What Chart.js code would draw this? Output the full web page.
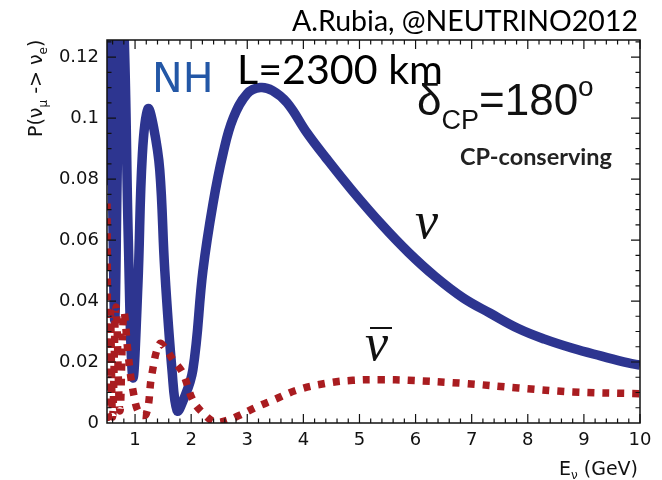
<!DOCTYPE html>
<html>
<head>
<meta charset="utf-8">
<script src="https://cdn.jsdelivr.net/npm/chart.js@4.4.1/dist/chart.umd.min.js"></script>
<style>
  html, body { margin: 0; padding: 0; background: #fff; }
  #wrap { width: 662px; height: 480px; }
</style>
</head>
<body>
<div id="wrap"><canvas id="prob" width="662" height="480"></canvas></div>
<script>
// nu_mu -> nu_e appearance, L = 2300 km, normal hierarchy, delta_CP = 180 deg
const nuE = [0.50, 0.53, 0.57, 0.61, 0.64, 0.68, 0.73, 0.80, 0.88, 0.96,
             1.05, 1.13, 1.23, 1.33, 1.44, 1.53, 1.66, 1.75, 1.85, 2.03,
             2.21, 2.39, 2.57, 2.75, 3.00, 3.23, 3.45, 3.71, 4.07, 4.40,
             4.88, 5.40, 5.87, 6.35, 6.85, 7.33, 7.83, 8.30, 8.80, 9.30,
             9.79, 10.0];
const nuP = [0.078, 0.13, 0.12, 0.06, 0.034, 0.08, 0.14, 0.13, 0.06, 0.015,
             0.045, 0.088, 0.103, 0.097, 0.083, 0.050, 0.017, 0.004, 0.007, 0.0174,
             0.050, 0.072, 0.0885, 0.100, 0.108, 0.110, 0.109, 0.105, 0.095, 0.087,
             0.076, 0.065, 0.056, 0.048, 0.041, 0.036, 0.031, 0.0275, 0.0245, 0.022,
             0.0197, 0.019];

// anti-neutrino channel
const nubarE = [0.50, 0.52, 0.56, 0.60, 0.66, 0.73, 0.80, 0.88, 0.97, 1.08,
                1.20, 1.30, 1.44, 1.56, 1.68, 1.85, 2.03, 2.21, 2.43, 2.66,
                2.87, 3.17, 3.46, 3.89, 4.40, 4.88, 5.40, 5.87, 6.85, 7.83,
                8.80, 10.0];
const nubarP = [0.072, 0.002, 0.036, 0.002, 0.038, 0.004, 0.036, 0.022, 0.010, 0.003,
                0.003, 0.016, 0.026, 0.024, 0.0206, 0.0164, 0.0075, 0.0033, 0.0003, 0.001,
                0.0026, 0.0053, 0.0075, 0.0108, 0.013, 0.014, 0.0142, 0.014, 0.013, 0.0115,
                0.0102, 0.0096];

const xTicks = [1, 2, 3, 4, 5, 6, 7, 8, 9, 10];
const yTicks = [0, 0.02, 0.04, 0.06, 0.08, 0.1, 0.12];

const X_MIN = 0.5, X_MAX = 10, Y_MIN = 0, Y_MAX = 0.1256;
const NU_BLUE = "#2d3590";
const NUBAR_RED = "#a91c20";
const AXIS_FONT = "DejaVu Sans";

const toXY = (xs, ys) => xs.map((x, i) => ({ x, y: ys[i] }));

// draw a row of text pieces (normal / sub / superscript), returns total width
function drawRuns(ctx, x, y, runs) {
  let cx = x;
  runs.forEach(r => {
    ctx.font = r.font;
    ctx.fillText(r.text, cx, y + (r.dy || 0));
    cx += ctx.measureText(r.text).width;
  });
  return cx - x;
}

function runsWidth(ctx, runs) {
  return runs.reduce((w, r) => { ctx.font = r.font; return w + ctx.measureText(r.text).width; }, 0);
}

// font size that makes text span the given width
function fitSize(ctx, text, family, weight, width) {
  ctx.font = `${weight} 100px ${family}`;
  return 100 * width / ctx.measureText(text).width;
}

const frameAndText = {
  id: "frameAndText",
  afterDatasetsDraw(chart) {
    const { ctx, chartArea: a, scales: { x, y } } = chart;
    ctx.save();

    // frame
    ctx.strokeStyle = "#111";
    ctx.lineWidth = 1.5;
    ctx.strokeRect(a.left, a.top, a.right - a.left, a.bottom - a.top);

    // inward ticks on all four sides
    ctx.lineWidth = 1.2;
    ctx.beginPath();
    for (let i = 3; i <= 50; i++) {
      const px = x.getPixelForValue(i * 0.2);
      const len = i % 5 === 0 ? 9 : 4.5;
      ctx.moveTo(px, a.bottom); ctx.lineTo(px, a.bottom - len);
      ctx.moveTo(px, a.top); ctx.lineTo(px, a.top + len);
    }
    for (let i = 1; i * 0.005 <= Y_MAX; i++) {
      const py = y.getPixelForValue(i * 0.005);
      const len = i % 4 === 0 ? 9 : 4.5;
      ctx.moveTo(a.left, py); ctx.lineTo(a.left + len, py);
      ctx.moveTo(a.right, py); ctx.lineTo(a.right - len, py);
    }
    ctx.stroke();

    ctx.fillStyle = "#111";
    ctx.textBaseline = "alphabetic";
    ctx.textAlign = "left";

    // y title, rotated
    ctx.save();
    ctx.translate(42, 137);
    ctx.rotate(-Math.PI / 2);
    drawRuns(ctx, 0, 0, [
      { text: "P(\u03bd", font: `19px ${AXIS_FONT}` },
      { text: "\u03bc", font: `12px ${AXIS_FONT}`, dy: 5 },
      { text: " -> \u03bd", font: `19px ${AXIS_FONT}` },
      { text: "e", font: `12px ${AXIS_FONT}`, dy: 5 },
      { text: ")", font: `19px ${AXIS_FONT}` },
    ]);
    ctx.restore();

    // x title
    const xRuns = [
      { text: "E", font: `19px ${AXIS_FONT}` },
      { text: "\u03bd", font: `12px ${AXIS_FONT}`, dy: 4 },
      { text: " (GeV)", font: `19px ${AXIS_FONT}` },
    ];
    drawRuns(ctx, 638 - runsWidth(ctx, xRuns), 475, xRuns);

    // credit line and baseline
    ctx.fillStyle = "#000";
    let s = fitSize(ctx, "A.Rubia, @NEUTRINO2012", "Lato", 400, 346);
    ctx.font = `400 ${s}px Lato`;
    ctx.fillText("A.Rubia, @NEUTRINO2012", 292, 31);
    s = fitSize(ctx, "L=2300 km", "Lato", 400, 206);
    ctx.font = `400 ${s}px Lato`;
    ctx.fillText("L=2300 km", 237, 84);

    // hierarchy tag
    ctx.fillStyle = "#2357a6";
    ctx.font = `41px ${AXIS_FONT}`;
    ctx.fillText("NH", 152, 92);

    // delta_CP = 180 deg
    ctx.fillStyle = "#111";
    drawRuns(ctx, 417, 115, [
      { text: "\u03b4", font: "44px 'Liberation Sans'" },
      { text: "CP", font: "27px 'Liberation Sans'", dy: 14 },
      { text: "=180", font: "44px 'Liberation Sans'" },
      { text: "o", font: "28px 'Liberation Sans'", dy: -19 },
    ]);

    ctx.fillStyle = "#222";
    s = fitSize(ctx, "CP-conserving", "Lato", 700, 152);
    ctx.font = `700 ${s}px Lato`;
    ctx.fillText("CP-conserving", 460, 165);

    // curve labels
    ctx.fillStyle = "#111";
    ctx.font = "italic 52px 'Liberation Serif'";
    ctx.fillText("\u03bd", 415, 238);
    ctx.fillText("\u03bd", 365, 360);
    ctx.lineWidth = 2;
    ctx.strokeStyle = "#111";
    ctx.beginPath();
    ctx.moveTo(370, 328); ctx.lineTo(392, 328);
    ctx.stroke();

    ctx.restore();
  }
};

new Chart(document.getElementById("prob"), {
  type: "line",
  data: {
    datasets: [
      {
        label: "anti-nu",
        data: toXY(nubarE, nubarP),
        borderColor: NUBAR_RED,
        borderWidth: 7.5,
        borderDash: [7, 8],
        borderCapStyle: "butt",
        pointRadius: 0,
        fill: false,
        tension: 0.4,
      },
      {
        label: "nu",
        data: toXY(nuE, nuP),
        borderColor: NU_BLUE,
        borderWidth: 9.5,
        pointRadius: 0,
        fill: false,
        tension: 0.4,
      },
    ],
  },
  options: {
    responsive: false,
    animation: false,
    layout: { padding: { top: 40, right: 22, left: 0, bottom: 0 } },
    plugins: { legend: { display: false }, tooltip: { enabled: false } },
    scales: {
      x: {
        type: "linear",
        min: X_MIN,
        max: X_MAX,
        afterBuildTicks: axis => { axis.ticks = xTicks.map(v => ({ value: v })); },
        afterFit: axis => { axis.height = 57; },
        grid: { display: false, drawTicks: false },
        border: { display: false },
        ticks: {
          autoSkip: false,
          maxRotation: 0,
          padding: 7,
          color: "#111",
          font: { family: AXIS_FONT, size: 18 },
          callback: v => String(v),
        },
      },
      y: {
        type: "linear",
        min: Y_MIN,
        max: Y_MAX,
        afterBuildTicks: axis => { axis.ticks = yTicks.map(v => ({ value: v })); },
        afterFit: axis => { axis.width = 107; },
        grid: { display: false, drawTicks: false },
        border: { display: false },
        ticks: {
          padding: 8,
          color: "#111",
          font: { family: AXIS_FONT, size: 18 },
          callback: v => String(+v.toFixed(2)),
        },
      },
    },
  },
  plugins: [frameAndText],
});
</script>
</body>
</html>
